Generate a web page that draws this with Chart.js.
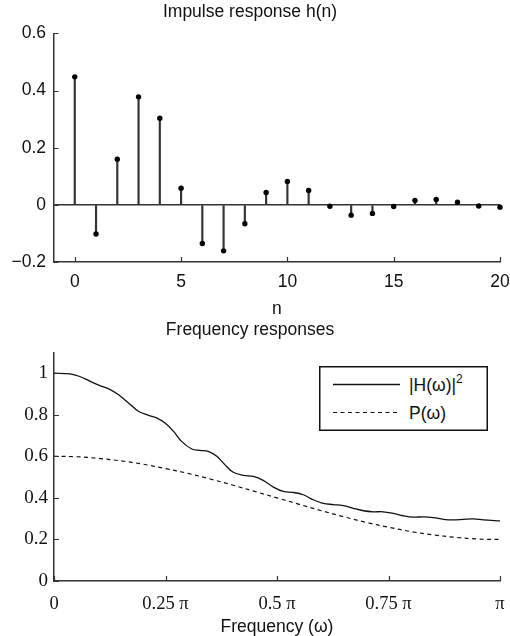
<!DOCTYPE html>
<html>
    <head>
        <title>Impulse and frequency responses</title>
        <meta charset="UTF-8">
        <script src="https://cdn.jsdelivr.net/npm/chart.js@4.4.1/dist/chart.umd.min.js"></script>
        <style>
            body { margin: 0; background: #fff; }
            #wrap { position: relative; width: 510px; height: 636px; }
            canvas { position: absolute; left: 0; }
            #legend { position: absolute; left: 319px; top: 366px; }
        </style>
        <script>
            // impulse response h(n)
            var nValues = [0, 1, 2, 3, 4, 5, 6, 7, 8, 9, 10, 11, 12, 13, 14, 15, 16, 17, 18, 19, 20];
            var hValues = [0.448, -0.102, 0.160, 0.378, 0.303, 0.058, -0.135, -0.161, -0.066, 0.043, 0.082,
                           0.050, -0.005, -0.036, -0.030, -0.006, 0.015, 0.019, 0.009, -0.004, -0.008];
            var nTicks = [0, 5, 10, 15, 20];
            var hTicks = [-0.2, 0, 0.2, 0.4, 0.6];

            // frequency responses, frequency given in units of pi
            var freqH = [0, 0.036, 0.058, 0.081, 0.103, 0.126, 0.144, 0.167, 0.189, 0.212, 0.230, 0.249,
                         0.268, 0.286, 0.309, 0.327, 0.346, 0.365, 0.383, 0.402, 0.425, 0.447, 0.469,
                         0.492, 0.514, 0.537, 0.559, 0.581, 0.604, 0.626, 0.649, 0.671, 0.694, 0.716,
                         0.738, 0.761, 0.783, 0.806, 0.828, 0.851, 0.873, 0.895, 0.918, 0.940, 0.963, 1];
            var magH = [1.000, 0.997, 0.984, 0.961, 0.940, 0.921, 0.897, 0.857, 0.817, 0.797, 0.785, 0.760,
                        0.720, 0.672, 0.635, 0.629, 0.624, 0.600, 0.560, 0.523, 0.508, 0.503, 0.484,
                        0.452, 0.431, 0.426, 0.415, 0.391, 0.373, 0.368, 0.363, 0.350, 0.338, 0.333,
                        0.333, 0.325, 0.314, 0.307, 0.309, 0.305, 0.297, 0.294, 0.297, 0.299, 0.294, 0.289];
            var freqP = [0, 0.05, 0.1, 0.15, 0.2, 0.25, 0.3, 0.35, 0.4, 0.45, 0.5,
                         0.55, 0.6, 0.65, 0.7, 0.75, 0.8, 0.85, 0.9, 0.95, 1];
            var powP = [0.600, 0.598, 0.590, 0.578, 0.562, 0.541, 0.518, 0.491, 0.462, 0.431, 0.400,
                        0.369, 0.338, 0.309, 0.282, 0.259, 0.238, 0.222, 0.210, 0.202, 0.200];
            var freqTicks = [0, 0.25, 0.5, 0.75, 1];
            var freqLabels = ['0', '0.25 \u03c0', '0.5 \u03c0', '0.75 \u03c0', '\u03c0'];
            var magTicks = [0, 0.2, 0.4, 0.6, 0.8, 1];

            var SANS = "'Liberation Sans', Arial, sans-serif";
            var SERIF = "'Liberation Serif', 'Times New Roman', serif";
            var INK = '#111';
            var CLEAR = 'rgba(0,0,0,0)';

            // small tick marks pointing into the plot, like the original figure
            var inwardTicks = {
                id: 'inwardTicks',
                afterDraw: function (chart) {
                    var ctx = chart.ctx, a = chart.chartArea, x = chart.scales.x, y = chart.scales.y;
                    ctx.save();
                    ctx.strokeStyle = '#333';
                    ctx.lineWidth = 1.2;
                    ctx.beginPath();
                    x.ticks.forEach(function (t) {
                        var px = Math.round(x.getPixelForValue(t.value)) + 0.5;
                        ctx.moveTo(px, a.bottom);
                        ctx.lineTo(px, a.bottom - 5);
                    });
                    y.ticks.forEach(function (t) {
                        var py = Math.round(y.getPixelForValue(t.value)) + 0.5;
                        ctx.moveTo(a.left, py);
                        ctx.lineTo(a.left + 5, py);
                    });
                    ctx.stroke();
                    ctx.restore();
                }
            };

            function fixTicks(values) {
                return function (scale) {
                    scale.ticks = values.map(function (v) { return {value: v}; });
                };
            }

            // invisible outer ticks give the label gap without widening the side padding
            function hiddenGrid(len) {
                return {display: true, drawOnChartArea: false, drawTicks: true, tickLength: len, color: CLEAR};
            }

            function ready(fn) {
                if (document.readyState !== 'loading') {
                    fn();
                } else {
                    document.addEventListener('DOMContentLoaded', fn);
                }
            }

            ready(function () {
                Chart.defaults.font.family = SANS;
                Chart.defaults.color = INK;
                Chart.defaults.animation = false;

                var stems = nValues.map(function (n, i) { return {x: n, y: hValues[i]}; });

                new Chart(document.getElementById('impulse'), {
                    data: {
                        datasets: [
                            {
                                type: 'bar',
                                data: stems,
                                backgroundColor: '#333',
                                barThickness: 1.5,
                                clip: false,
                                order: 2
                            },
                            {
                                type: 'scatter',
                                data: stems,
                                pointRadius: 2.7,
                                pointBackgroundColor: '#000',
                                pointBorderWidth: 0,
                                clip: false,
                                order: 1
                            }
                        ]
                    },
                    options: {
                        responsive: false,
                        layout: {padding: {left: 0, right: 10, top: 0, bottom: 0}},
                        plugins: {
                            legend: {display: false},
                            tooltip: {enabled: false},
                            title: {
                                display: true,
                                text: 'Impulse response h(n)',
                                color: INK,
                                font: {size: 17.5, weight: 'normal'},
                                padding: {top: 2, bottom: 10.4}
                            }
                        },
                        scales: {
                            x: {
                                type: 'linear',
                                offset: false,
                                min: -1,
                                max: 20,
                                afterBuildTicks: fixTicks(nTicks),
                                afterFit: function (s) { s.height = 56; },
                                grid: hiddenGrid(10),
                                border: {color: '#333', width: 1.5},
                                ticks: {font: {size: 17.5}, padding: 0, maxRotation: 0},
                                title: {display: true, text: 'n', font: {size: 17.5}, padding: {top: 0, bottom: -2}}
                            },
                            y: {
                                min: -0.2,
                                max: 0.6,
                                afterBuildTicks: fixTicks(hTicks),
                                afterFit: function (s) { s.width = 53.5; },
                                grid: {
                                    drawTicks: false,
                                    lineWidth: 1.5,
                                    color: function (c) { return c.tick && c.tick.value === 0 ? '#333' : CLEAR; }
                                },
                                border: {color: '#333', width: 1.5},
                                ticks: {
                                    font: {size: 17.5},
                                    padding: 7.5,
                                    callback: function (v) {
                                        var s = String(Math.round(v * 10) / 10);
                                        return s.replace('-', '\u2212');
                                    }
                                }
                            }
                        }
                    },
                    plugins: [inwardTicks]
                });

                new Chart(document.getElementById('freq'), {
                    type: 'scatter',
                    data: {
                        datasets: [
                            {
                                label: '|H(\u03c9)|\u00b2',
                                data: freqH.map(function (f, i) { return {x: f, y: magH[i]}; }),
                                showLine: true,
                                borderColor: '#111',
                                borderWidth: 1.3,
                                pointRadius: 0,
                                tension: 0.35
                            },
                            {
                                label: 'P(\u03c9)',
                                data: freqP.map(function (f, i) { return {x: f, y: powP[i]}; }),
                                showLine: true,
                                borderColor: '#111',
                                borderWidth: 1.2,
                                borderDash: [4, 3.5],
                                pointRadius: 0,
                                tension: 0.35
                            }
                        ]
                    },
                    options: {
                        responsive: false,
                        layout: {padding: {left: 0, right: 10, top: 0, bottom: 0}},
                        plugins: {
                            legend: {display: false},
                            tooltip: {enabled: false},
                            title: {
                                display: true,
                                text: 'Frequency responses',
                                color: INK,
                                font: {size: 17.5, weight: 'normal'},
                                padding: {top: 2, bottom: 11.4}
                            }
                        },
                        scales: {
                            x: {
                                type: 'linear',
                                min: 0,
                                max: 1,
                                afterBuildTicks: fixTicks(freqTicks),
                                afterFit: function (s) { s.height = 55; },
                                grid: hiddenGrid(12),
                                border: {color: '#333', width: 1.5},
                                ticks: {
                                    font: {family: SERIF, size: 18.5},
                                    padding: 0,
                                    maxRotation: 0,
                                    callback: function (v) { return freqLabels[freqTicks.indexOf(v)]; }
                                },
                                title: {display: true, text: 'Frequency (\u03c9)', font: {size: 17.5}, padding: {top: 0, bottom: -2}}
                            },
                            y: {
                                min: 0,
                                max: 1.1,
                                afterBuildTicks: fixTicks(magTicks),
                                afterFit: function (s) { s.width = 54; },
                                grid: {display: false, drawTicks: false},
                                border: {color: '#333', width: 1.5},
                                ticks: {
                                    font: {family: SERIF, size: 19},
                                    padding: 6,
                                    callback: function (v) { return String(Math.round(v * 10) / 10); }
                                }
                            }
                        }
                    },
                    plugins: [inwardTicks]
                });
            });
        </script>
    </head>
    <body>
        <div id="wrap">
            <canvas id="impulse" width="510" height="318" style="top:0"></canvas>
            <canvas id="freq" width="510" height="318" style="top:318px"></canvas>
            <svg id="legend" width="169" height="65" xmlns="http://www.w3.org/2000/svg">
                <rect x="0.75" y="0.75" width="167.5" height="63.5" fill="#fff" stroke="#111" stroke-width="1.5"/>
                <line x1="14" y1="18.5" x2="81" y2="18.5" stroke="#111" stroke-width="1.3"/>
                <line x1="14" y1="46.5" x2="81" y2="46.5" stroke="#111" stroke-width="1.2" stroke-dasharray="4 3.5"/>
                <text x="90" y="25" font-family="'Liberation Sans', Arial, sans-serif" font-size="17.5" fill="#111">|H(ω)|<tspan dy="-8" font-size="12">2</tspan></text>
                <text x="90" y="53" font-family="'Liberation Sans', Arial, sans-serif" font-size="17.5" fill="#111">P(ω)</text>
            </svg>
        </div>
    </body>
</html>
